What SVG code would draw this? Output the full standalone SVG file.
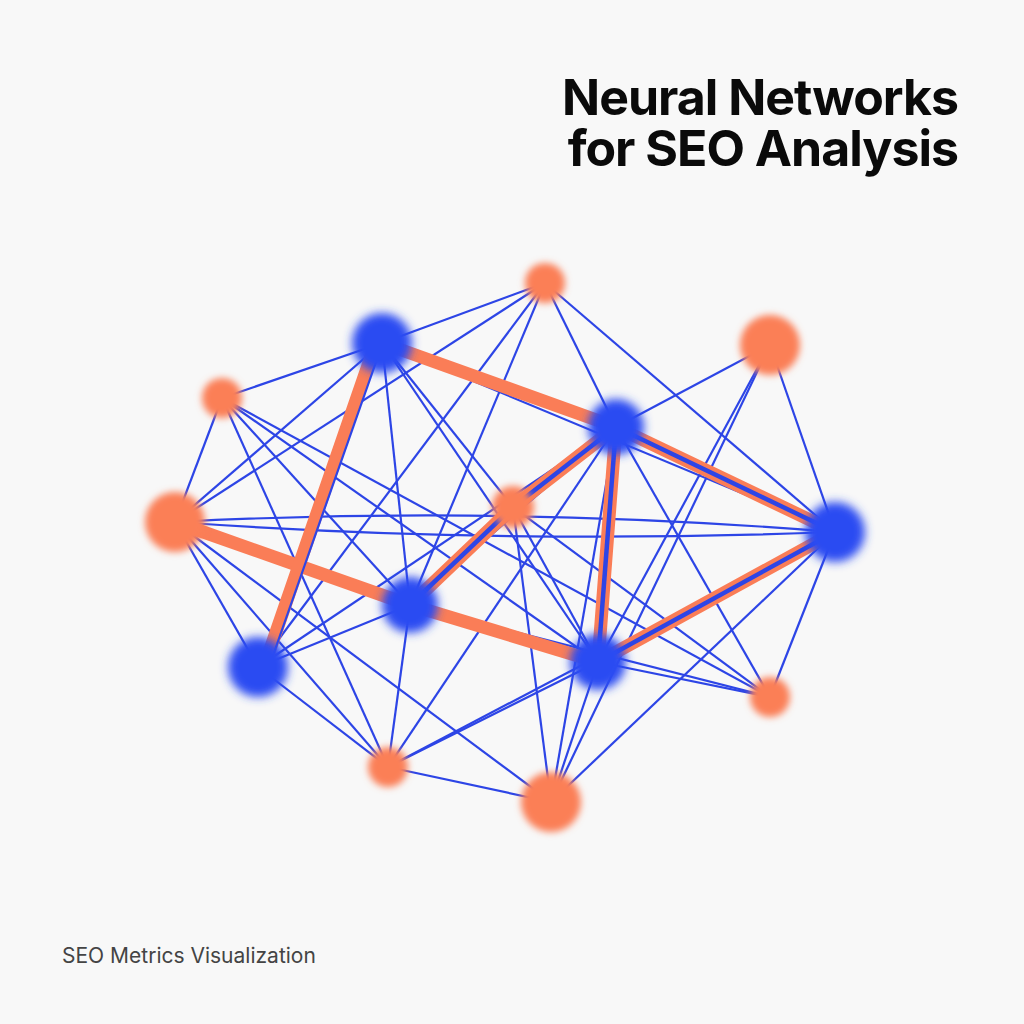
<svg xmlns="http://www.w3.org/2000/svg" width="1024" height="1024" viewBox="0 0 1024 1024">
<defs>
<filter id="blur" x="-50%" y="-50%" width="200%" height="200%"><feGaussianBlur stdDeviation="3.5"/></filter>
<filter id="glow" x="-60%" y="-60%" width="220%" height="220%"><feGaussianBlur stdDeviation="5"/></filter>
</defs>
<style>
.thin{stroke:#2d45e6;stroke-width:2.2;fill:none}
.thick{stroke:#fa7d57;stroke-width:13;fill:none;stroke-linecap:round}
.core{stroke:#2d45e6;stroke-width:4.5;fill:none}
.on{fill:#fb7f57}
.bn{fill:#2b4cf2}
.title{font-family:Inter,"Liberation Sans",sans-serif;font-weight:700;font-size:50px;letter-spacing:-1px;fill:#0a0a0a}
.sub{font-family:Inter,"Liberation Sans",sans-serif;font-size:21px;fill:#444}
</style>
<rect width="1024" height="1024" fill="#f8f8f8"/>
<g id="connectors">
<line class="thin" x1="545" y1="283" x2="382" y2="343"/>
<line class="thin" x1="545" y1="283" x2="616" y2="427"/>
<line class="thin" x1="545" y1="283" x2="835" y2="532"/>
<line class="thin" x1="545" y1="283" x2="175" y2="522"/>
<line class="thin" x1="545" y1="283" x2="258" y2="667"/>
<line class="thin" x1="545" y1="283" x2="410" y2="605"/>
<line class="thin" x1="770" y1="345" x2="616" y2="427"/>
<line class="thin" x1="770" y1="345" x2="835" y2="532"/>
<line class="thin" x1="770" y1="345" x2="598" y2="662"/>
<line class="thin" x1="770" y1="345" x2="551" y2="802"/>
<line class="thin" x1="222" y1="398" x2="382" y2="343"/>
<line class="thin" x1="222" y1="398" x2="175" y2="522"/>
<line class="thin" x1="222" y1="398" x2="410" y2="605"/>
<line class="thin" x1="222" y1="398" x2="598" y2="662"/>
<line class="thin" x1="222" y1="398" x2="388" y2="767"/>
<line class="thin" x1="222" y1="398" x2="770" y2="697"/>
<line class="thin" x1="175" y1="522" x2="382" y2="343"/>
<path class="thin" d="M175 522 Q500 505 835 532"/>
<path class="thin" d="M175 522 Q500 545 835 532"/>
<line class="thin" x1="175" y1="522" x2="258" y2="667"/>
<line class="thin" x1="175" y1="522" x2="388" y2="767"/>
<line class="thin" x1="175" y1="522" x2="551" y2="802"/>
<line class="thin" x1="382" y1="343" x2="410" y2="605"/>
<line class="thin" x1="382" y1="343" x2="513" y2="507"/>
<line class="thin" x1="382" y1="343" x2="835" y2="532"/>
<line class="thin" x1="382" y1="343" x2="598" y2="662"/>
<line class="thin" x1="616" y1="427" x2="258" y2="667"/>
<line class="thin" x1="616" y1="427" x2="770" y2="697"/>
<line class="thin" x1="616" y1="427" x2="410" y2="605"/>
<line class="thin" x1="616" y1="427" x2="551" y2="802"/>
<line class="thin" x1="616" y1="427" x2="388" y2="767"/>
<line class="thin" x1="616" y1="427" x2="835" y2="532"/>
<line class="thin" x1="513" y1="507" x2="551" y2="802"/>
<line class="thin" x1="513" y1="507" x2="598" y2="662"/>
<line class="thin" x1="513" y1="507" x2="770" y2="697"/>
<line class="thin" x1="410" y1="605" x2="258" y2="667"/>
<line class="thin" x1="410" y1="605" x2="388" y2="767"/>
<line class="thin" x1="410" y1="605" x2="770" y2="697"/>
<line class="thin" x1="598" y1="662" x2="551" y2="802"/>
<line class="thin" x1="598" y1="662" x2="770" y2="697"/>
<line class="thin" x1="598" y1="662" x2="388" y2="767"/>
<line class="thin" x1="835" y1="532" x2="770" y2="697"/>
<line class="thin" x1="835" y1="532" x2="551" y2="802"/>
<line class="thin" x1="835" y1="532" x2="388" y2="767"/>
<line class="thin" x1="258" y1="667" x2="388" y2="767"/>
<line class="thin" x1="388" y1="767" x2="551" y2="802"/>
<line class="thick" x1="382" y1="343" x2="616" y2="427"/>
<line class="thick" x1="175" y1="522" x2="410" y2="605"/>
<line class="thick" x1="410" y1="605" x2="598" y2="662"/>
<line class="thick" x1="375" y1="345" x2="265" y2="664"/>
<line class="thin" x1="382" y1="345" x2="270" y2="664"/>
<line class="thick" x1="410" y1="605" x2="513" y2="507"/>
<line class="core" x1="410" y1="605" x2="513" y2="507"/>
<line class="thick" x1="513" y1="507" x2="616" y2="427"/>
<line class="core" x1="513" y1="507" x2="616" y2="427"/>
<line class="thick" x1="616" y1="427" x2="598" y2="662"/>
<line class="core" x1="616" y1="427" x2="598" y2="662"/>
<line class="thick" x1="616" y1="427" x2="835" y2="532"/>
<line class="core" x1="616" y1="427" x2="835" y2="532"/>
<line class="thick" x1="598" y1="662" x2="835" y2="532"/>
<line class="core" x1="598" y1="662" x2="835" y2="532"/>
</g>
<g id="node-o1"><circle class="on" cx="545" cy="283" r="20" filter="url(#blur)"/></g>
<g id="node-o2"><circle class="on" cx="770" cy="345" r="30" filter="url(#blur)"/></g>
<g id="node-o3"><circle class="on" cx="222" cy="398" r="20" filter="url(#blur)"/></g>
<g id="node-o4"><circle class="on" cx="175" cy="522" r="30" filter="url(#blur)"/></g>
<g id="node-o5"><circle class="on" cx="513" cy="507" r="21" filter="url(#blur)"/></g>
<g id="node-o6"><circle class="on" cx="770" cy="697" r="20" filter="url(#blur)"/></g>
<g id="node-o7"><circle class="on" cx="388" cy="767" r="20" filter="url(#blur)"/></g>
<g id="node-o8"><circle class="on" cx="551" cy="802" r="30" filter="url(#blur)"/></g>
<g id="node-b1"><circle class="bn" cx="382" cy="343" r="30" filter="url(#glow)"/></g>
<g id="node-b2"><circle class="bn" cx="616" cy="427" r="28" filter="url(#glow)"/></g>
<g id="node-b3"><circle class="bn" cx="835" cy="532" r="30" filter="url(#glow)"/></g>
<g id="node-b4"><circle class="bn" cx="410" cy="605" r="28" filter="url(#glow)"/></g>
<g id="node-b5"><circle class="bn" cx="598" cy="662" r="28" filter="url(#glow)"/></g>
<g id="node-b6"><circle class="bn" cx="258" cy="667" r="30" filter="url(#glow)"/></g>
<g id="title">
<text class="title" x="958" y="115" text-anchor="end">Neural Networks</text>
<text class="title" x="958" y="166" text-anchor="end">for SEO Analysis</text>
</g>
<text class="sub" x="62" y="963">SEO Metrics Visualization</text>
</svg>
